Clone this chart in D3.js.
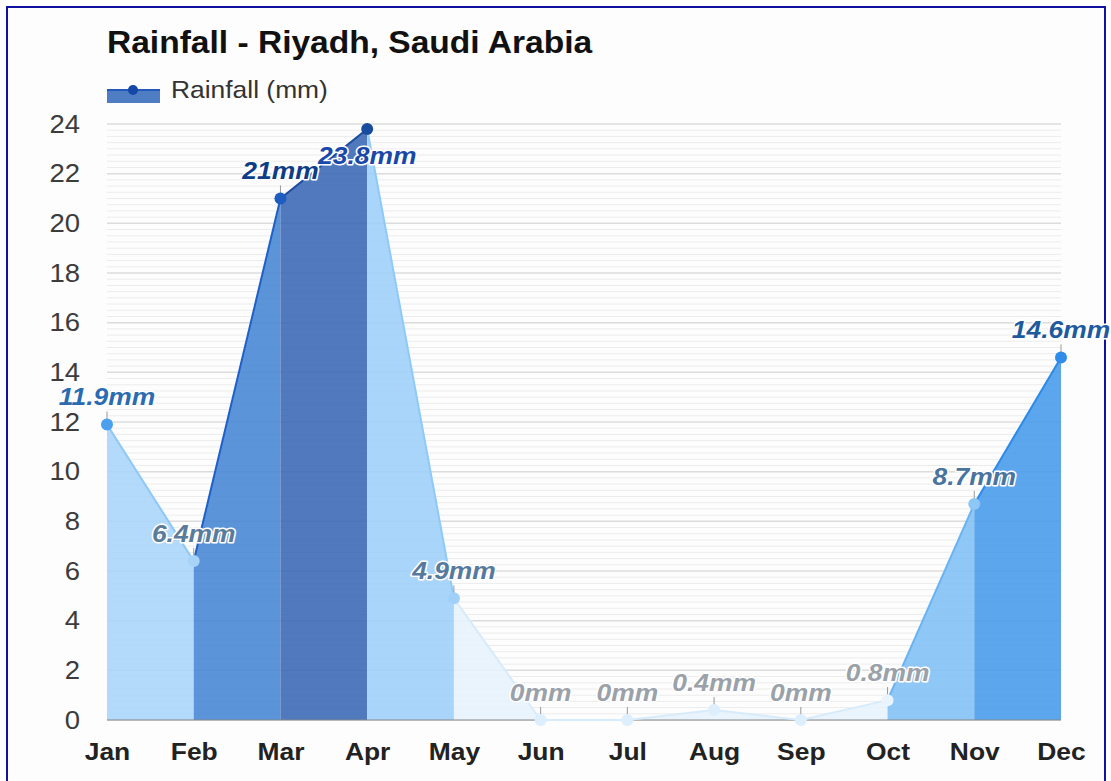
<!DOCTYPE html>
<html>
<head>
<meta charset="utf-8">
<script src="https://cdn.jsdelivr.net/npm/d3@7"></script>
<style>
  body { margin: 0; background: #fff; }
  svg text { font-family: "Liberation Sans", Arial, sans-serif; }
  .wide { transform-box: fill-box; transform: scaleX(1.1); }
</style>
</head>
<body>
<script>
'use strict'
const months = ["Jan", "Feb", "Mar", "Apr", "May", "Jun", "Jul", "Aug", "Sep", "Oct", "Nov", "Dec"];
const rainfall = [11.9, 6.4, 21, 23.8, 4.9, 0, 0, 0.4, 0, 0.8, 8.7, 14.6];
const yTicks = [0, 2, 4, 6, 8, 10, 12, 14, 16, 18, 20, 22, 24];

// colour of each month's point / label, and of each segment (month i -> i+1)
const pointColors = ["#4ba0ee", "#a8d3f9", "#1e5cc0", "#174b9b", "#a0d0f8", "#ddeefc", "#ddeefc", "#ddeefc", "#ddeefc", "#eaf4fd", "#8ec6f6", "#2f8ce8"];
const labelColors = ["#2b6cb0", "#5a7b99", "#0d3d87", "#1a48a8", "#56799e", "#9aa1a8", "#9aa1a8", "#9aa1a8", "#9aa1a8", "#9aa1a8", "#4a73a0", "#1e5a9e"];
const segFills = ["#a9d4fb", "#4485d3", "#3866b5", "#9ecff9", "#e6f3fd", "#e6f3fd", "#e6f3fd", "#e6f3fd", "#e6f3fd", "#80c0f6", "#449aea"];
const segLines = ["#8ec8f7", "#1f60c8", "#1b4c9f", "#8ecaf8", "#d8ebfb", "#d8ebfb", "#d8ebfb", "#d8ebfb", "#d8ebfb", "#6ab3f2", "#2d8ae6"];

const w = 1111;
const h = 781;
const pLeft = 107, pRight = 1061, pTop = 124, pBottom = 720;

const x = d3.scalePoint().domain(months).range([pLeft, pRight]);
const y = d3.scaleLinear().domain([0, 24]).range([pBottom, pTop]);

const svg = d3.select("body").append("svg")
	.attr("width", w)
	.attr("height", h);

svg.append("rect")
	.attr("x", 7).attr("y", 7)
	.attr("width", w - 13).attr("height", h + 10)
	.attr("fill", "#fcfdfc")
	.attr("stroke", "#1212a0")
	.attr("stroke-width", 2);

// title + legend
svg.append("text")
	.attr("class", "wide")
	.attr("x", pLeft).attr("y", 53)
	.attr("font-size", 30.5).attr("font-weight", "bold")
	.attr("fill", "#111")
	.style("transform-origin", "left center")
	.text("Rainfall - Riyadh, Saudi Arabia");

svg.append("rect")
	.attr("x", 107).attr("y", 89)
	.attr("width", 53).attr("height", 14)
	.attr("fill", "#4f7dc4");
svg.append("line")
	.attr("x1", 107).attr("x2", 160)
	.attr("y1", 90).attr("y2", 90)
	.attr("stroke", "#2357b8").attr("stroke-width", 2);
svg.append("circle")
	.attr("cx", 133).attr("cy", 90).attr("r", 5)
	.attr("fill", "#1447a6");
svg.append("text")
	.attr("class", "wide")
	.attr("x", 171).attr("y", 98)
	.attr("font-size", 24)
	.attr("fill", "#333")
	.style("transform-origin", "left center")
	.text("Rainfall (mm)");

// grid
const minor = d3.range(0, 24.001, 0.25).filter(v => v % 2 !== 0);
svg.append("g").selectAll("line")
	.data(minor)
	.enter().append("line")
	.attr("x1", pLeft).attr("x2", pRight)
	.attr("y1", d => y(d)).attr("y2", d => y(d))
	.attr("stroke", "#ececec").attr("stroke-width", 1);
svg.append("g").selectAll("line")
	.data(yTicks)
	.enter().append("line")
	.attr("x1", pLeft).attr("x2", pRight)
	.attr("y1", d => y(d)).attr("y2", d => y(d))
	.attr("stroke", "#dcdcdc").attr("stroke-width", 1.5);

// areas, one per month pair
const segs = d3.range(months.length - 1).map(i => [i, i + 1]);
const area = d3.area()
	.x(i => x(months[i]))
	.y0(y(0))
	.y1(i => y(rainfall[i]));
const line = d3.line()
	.x(i => x(months[i]))
	.y(i => y(rainfall[i]));

svg.append("g").selectAll("path")
	.data(segs)
	.enter().append("path")
	.attr("d", area)
	.attr("fill", (d, i) => segFills[i])
	.attr("fill-opacity", 0.88);

svg.append("line")
	.attr("x1", pLeft).attr("x2", pRight)
	.attr("y1", pBottom).attr("y2", pBottom)
	.attr("stroke", "#8a8a8a").attr("stroke-width", 1);

svg.append("g").selectAll("path")
	.data(segs)
	.enter().append("path")
	.attr("d", line)
	.attr("fill", "none")
	.attr("stroke", (d, i) => segLines[i])
	.attr("stroke-width", 2);

// axes
const yAxis = svg.append("g")
	.attr("transform", "translate(" + (pLeft - 27) + ",0)")
	.call(d3.axisLeft(y).tickValues(yTicks).tickSize(0).tickPadding(0));
yAxis.select(".domain").remove();
yAxis.selectAll("text")
	.attr("class", "wide")
	.style("transform-origin", "right center")
	.attr("font-size", 25)
	.attr("fill", "#3c3c3c");

const xAxis = svg.append("g")
	.attr("transform", "translate(0," + pBottom + ")")
	.call(d3.axisBottom(x).tickSize(0).tickPadding(0));
xAxis.select(".domain").remove();
xAxis.selectAll("text")
	.attr("class", "wide")
	.style("transform-origin", "center")
	.attr("dy", 0)
	.attr("y", 40)
	.attr("font-size", 24)
	.attr("font-weight", "bold")
	.attr("fill", "#222");

// points and labels
const below = (d) => y(d) - 38 < pTop - 8;

svg.append("g").selectAll("line")
	.data(rainfall)
	.enter().append("line")
	.attr("display", d => below(d) ? "none" : null)
	.attr("x1", (d, i) => x(months[i]))
	.attr("x2", (d, i) => x(months[i]))
	.attr("y1", d => y(d) - 13)
	.attr("y2", d => y(d))
	.attr("stroke", "#9a9a9a");

svg.append("g").selectAll("circle")
	.data(rainfall)
	.enter().append("circle")
	.attr("cx", (d, i) => x(months[i]))
	.attr("cy", d => y(d))
	.attr("r", 6)
	.attr("fill", (d, i) => pointColors[i]);

svg.append("g").selectAll("text")
	.data(rainfall)
	.enter().append("text")
	.attr("class", "wide")
	.style("transform-origin", "center")
	.attr("x", (d, i) => x(months[i]))
	.attr("y", d => below(d) ? y(d) + 35 : y(d) - 19)
	.attr("text-anchor", "middle")
	.attr("font-size", 24)
	.attr("font-weight", "bold")
	.attr("font-style", "italic")
	.attr("fill", (d, i) => labelColors[i])
	.attr("stroke", "#fff")
	.attr("stroke-width", 3)
	.attr("stroke-linejoin", "round")
	.attr("paint-order", "stroke")
	.text(d => d + "mm");
</script>
</body>
</html>
